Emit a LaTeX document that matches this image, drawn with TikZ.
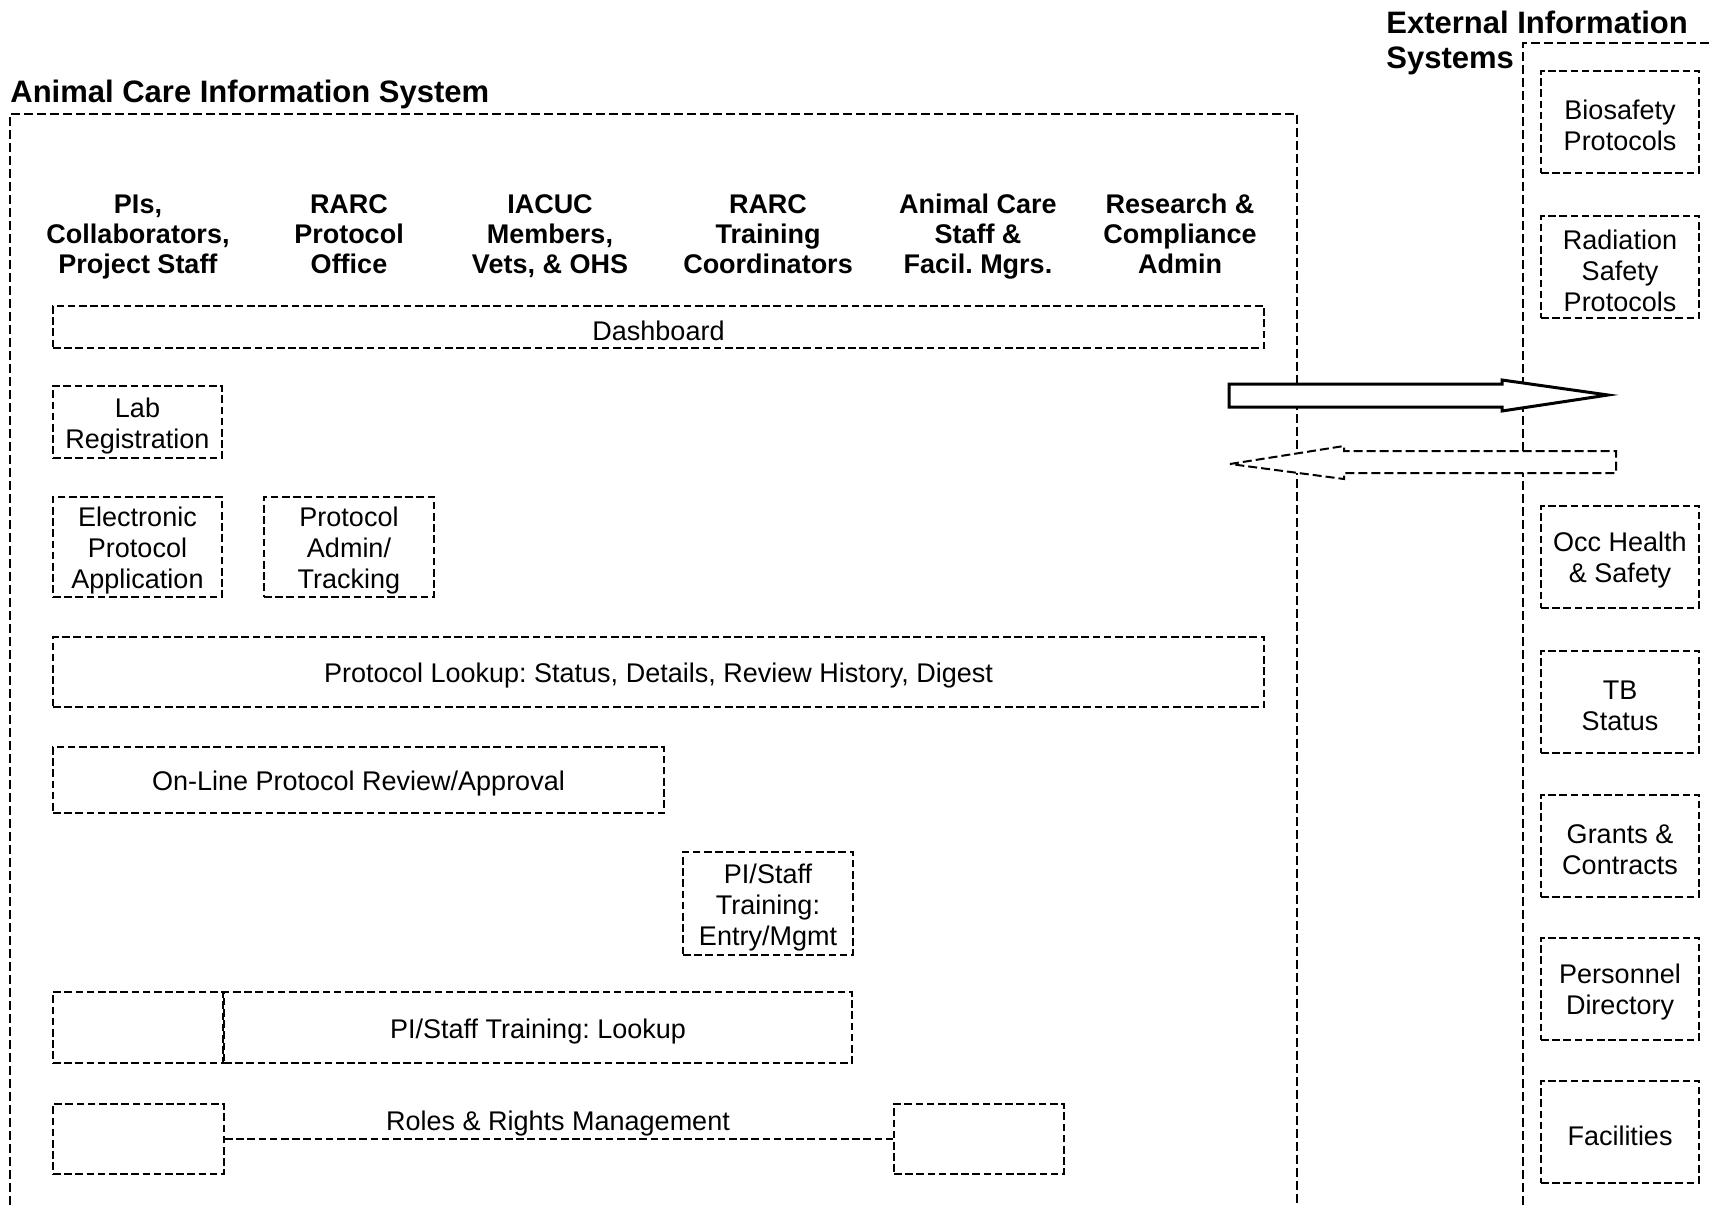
\documentclass[tikz,border=0pt]{standalone}
\usepackage{fontspec}
\setmainfont{Liberation Sans}
\frenchspacing
\begin{document}
\begin{tikzpicture}[x=0.5pt,y=-0.5pt,
  dashline/.style={line width=1pt, dash pattern=on 3.8pt off 1.8pt},
  lbl/.style={inner sep=0pt, align=center, font=\fontsize{13.5}{15.5}\selectfont},
  frame/.style={dashline, draw, inner sep=0pt},
  box/.style={frame, label={[lbl, yshift=-2pt]center:#1}},
  hdr/.style={inner sep=0pt, align=center, anchor=base, font=\bfseries\fontsize{13.5}{15}\selectfont},
  ttl/.style={inner sep=0pt, align=left, anchor=base west, font=\bfseries\fontsize{15.5}{17.5}\selectfont},
  extbox/.style={box=#1, minimum width=79pt, minimum height=51pt}
]
\useasboundingbox (0,0) rectangle (1709,1205);

% system frames (open towards the page edges)
\draw[line width=1pt, dash pattern=on 4.5pt off 2pt] (10,1205) -- (10,114) -- (1297,114) -- (1297,1205);
\draw[line width=1pt, dash pattern=on 4.5pt off 2pt] (1523,1205) -- (1523,43) -- (1709,43);

% titles
\node[ttl] (acis) at (10,102) {Animal Care Information System};
\node[ttl] (eis) at (1386,68) {External Information\\Systems};

% user groups
\node[hdr] (pi)   at (138,273) {PIs,\\Collaborators,\\Project Staff};
\node[hdr] (rpo)  at (349,273) {RARC\\Protocol\\Office};
\node[hdr] (iac)  at (550,273) {IACUC\\Members,\\Vets, \& OHS};
\node[hdr] (rtc)  at (768,273) {RARC\\Training\\Coordinators};
\node[hdr] (acs)  at (978,273) {Animal Care\\Staff \&\\Facil. Mgrs.};
\node[hdr] (rca)  at (1180,273) {Research \&\\Compliance\\Admin};

% modules
\node[box={Dashboard}, minimum width=605.5pt, minimum height=21pt] (dashboard) at (658.5,327) {};
\node[box={Lab\\Registration}, minimum width=84.5pt, minimum height=36pt] (labreg) at (137.5,422) {};
\node[box={Electronic\\Protocol\\Application}, minimum width=84.5pt, minimum height=50pt] (epa) at (137.5,547) {};
\node[box={Protocol\\Admin/\\Tracking}, minimum width=85pt, minimum height=50pt] (pat) at (349,547) {};
\node[box={Protocol Lookup: Status, Details, Review History, Digest}, minimum width=605.5pt, minimum height=35pt] (lookup) at (658.5,672) {};
\node[box={On-Line Protocol Review/Approval}, minimum width=305.5pt, minimum height=33pt] (review) at (358.5,780) {};
\node[box={PI/Staff\\Training:\\Entry/Mgmt}, minimum width=85pt, minimum height=51.5pt] (train) at (768,903.5) {};
\node[frame, minimum width=85pt, minimum height=35.5pt] (lookL) at (138,1027.5) {};
\node[box={PI/Staff Training: Lookup}, minimum width=314pt, minimum height=35.5pt, anchor=west, xshift=-0.5pt] (lookR) at (lookL.east) {};
\node[frame, minimum width=85.5pt, minimum height=35pt] (rolesL) at (138.5,1139) {};
\node[frame, minimum width=85pt, minimum height=35pt] (rolesR) at (979,1139) {};
\draw[dashline] (rolesL.east) -- (rolesR.west);
\node[lbl] (roles) at (558,1123.5) {Roles \& Rights Management};

% external systems
\node[extbox={Biosafety\\Protocols}] (bio)  at (1620,121.5) {};
\node[extbox={Radiation\\Safety\\Protocols}] (rad)  at (1620,267) {};
\node[extbox={Occ Health\\\& Safety}] (occ)  at (1620,556.5) {};
\node[extbox={TB\\Status}] (tb)   at (1620,701.5) {};
\node[extbox={Grants \&\\Contracts}] (gra)  at (1620,845.5) {};
\node[extbox={Personnel\\Directory}] (pers) at (1620,988.5) {};
\node[extbox={Facilities}] (fac)  at (1620,1131.5) {};

% data exchange arrows
\draw[line width=1.5pt, fill=white] (1229,384) -- (1502,384) -- (1502,380) -- (1608,395)
  -- (1502,411) -- (1502,407) -- (1229,407) -- cycle;
\draw[line width=1pt, dash pattern=on 4.5pt off 2pt, fill=white] (1230,464) -- (1344,446) -- (1344,451)
  -- (1616,451) -- (1616,473) -- (1344,473) -- (1344,479) -- cycle;
\end{tikzpicture}
\end{document}
